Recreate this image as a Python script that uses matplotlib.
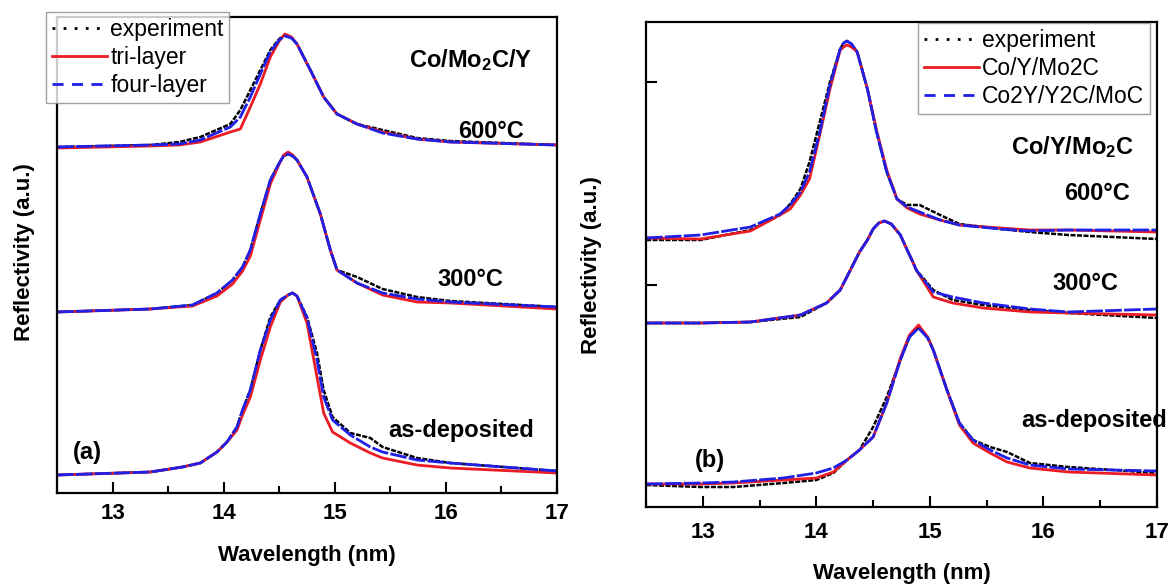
import numpy as np
import matplotlib
matplotlib.use('Agg')
import matplotlib.pyplot as plt
from matplotlib.ticker import MultipleLocator
from matplotlib.lines import Line2D

plt.rcParams['font.family'] = ['Liberation Sans', 'DejaVu Sans']
plt.rcParams['mathtext.fontset'] = 'custom'
plt.rcParams['mathtext.rm'] = 'Liberation Sans:bold'
plt.rcParams['mathtext.it'] = 'Liberation Sans:bold'
plt.rcParams['mathtext.bf'] = 'Liberation Sans:bold'

# %% data, panel (a) Co/Mo2C/Y  (reflectivity in a.u., curves already stacked)
a600_wl  = [12.5, 13.34, 13.6, 13.79, 14.06, 14.15, 14.24, 14.33, 14.42, 14.5, 14.55, 14.61, 14.66, 14.78, 14.9, 15.02, 15.2, 15.43, 15.74, 16.04, 17.0]
a600_exp = [346, 348, 351, 356, 369, 383, 403, 423, 443, 454, 458, 455, 449, 423, 396, 379, 369, 363, 355, 352, 348]
a600_tri = [345, 347, 348, 351, 361, 364, 386, 409, 436, 452, 459, 456, 449, 423, 396, 379, 369, 361, 354, 351, 348]
a600_four = [346, 348, 349, 353, 366, 376, 396, 419, 441, 453, 457, 455, 449, 423, 396, 379, 369, 360, 354, 351, 348]

a300_wl  = [12.5, 13.34, 13.72, 13.94, 14.08, 14.17, 14.24, 14.33, 14.42, 14.5, 14.54, 14.58, 14.62, 14.66, 14.75, 14.87, 14.96, 15.02, 15.2, 15.43, 15.74, 16.04, 17.0]
a300_exp = [181, 184, 188, 200, 213, 226, 243, 279, 313, 330, 337, 339, 337, 333, 316, 279, 243, 223, 216, 204, 196, 192, 186]
a300_tri = [181, 184, 187, 197, 209, 222, 237, 273, 309, 329, 338, 341, 338, 333, 316, 279, 243, 223, 210, 198, 191, 190, 184]
a300_four = [181, 184, 188, 200, 213, 226, 243, 279, 313, 330, 337, 339, 337, 333, 316, 279, 243, 223, 210, 200, 194, 191, 186]

aas_wl  = [12.5, 13.34, 13.63, 13.79, 13.94, 14.03, 14.12, 14.17, 14.24, 14.33, 14.42, 14.51, 14.58, 14.62, 14.66, 14.75, 14.84, 14.9, 14.98, 15.14, 15.32, 15.43, 15.74, 16.04, 17.0]
aas_exp = [18, 21, 26, 30, 41, 51, 66, 83, 103, 143, 176, 193, 198, 200, 197, 176, 140, 103, 76, 60, 55, 46, 35, 30, 22]
aas_tri = [18, 21, 26, 30, 41, 51, 63, 78, 96, 133, 166, 191, 198, 200, 197, 170, 116, 80, 61, 50, 40, 35, 28, 25, 20]
aas_four = [18, 21, 26, 30, 41, 51, 66, 83, 103, 143, 173, 193, 198, 200, 197, 175, 133, 96, 73, 58, 46, 41, 33, 30, 22]

# %% data, panel (b) Co/Y/Mo2C
b600_wl  = [12.5, 12.98, 13.42, 13.68, 13.77, 13.86, 13.94, 14.03, 14.12, 14.21, 14.24, 14.27, 14.31, 14.36, 14.45, 14.53, 14.62, 14.71, 14.8, 14.91, 15.09, 15.26, 15.62, 15.88, 16.22, 17.0]
b600_exp = [267, 267, 277, 292, 303, 318, 345, 385, 425, 458, 464, 466, 463, 455, 418, 375, 335, 308, 302, 302, 292, 283, 278, 275, 272, 268]
b600_tri = [269, 268, 276, 292, 298, 312, 328, 372, 418, 457, 460, 462, 460, 455, 418, 377, 337, 308, 299, 293, 287, 282, 279, 277, 277, 275]
b600_four = [269, 272, 280, 293, 302, 315, 335, 375, 422, 458, 464, 466, 463, 455, 418, 375, 335, 308, 300, 295, 287, 282, 278, 276, 277, 277]

b300_wl  = [12.5, 12.98, 13.42, 13.86, 14.09, 14.21, 14.3, 14.38, 14.45, 14.5, 14.55, 14.6, 14.66, 14.74, 14.8, 14.85, 14.88, 15.03, 15.2, 15.47, 15.88, 16.22, 17.0]
b300_exp = [184, 184, 185, 190, 204, 217, 237, 255, 267, 278, 284, 286, 283, 272, 257, 245, 237, 217, 207, 202, 197, 194, 189]
b300_tri = [184, 184, 185, 192, 204, 217, 237, 255, 267, 278, 284, 286, 283, 272, 257, 245, 237, 210, 204, 199, 195, 194, 192]
b300_four = [184, 184, 185, 192, 204, 217, 237, 255, 267, 278, 284, 286, 283, 272, 257, 245, 237, 215, 210, 204, 198, 195, 198]

bas_wl  = [12.5, 12.98, 13.27, 13.71, 14.0, 14.15, 14.27, 14.38, 14.5, 14.62, 14.74, 14.82, 14.9, 14.98, 15.03, 15.15, 15.26, 15.38, 15.53, 15.68, 15.88, 16.22, 17.0]
bas_exp = [22, 20, 20, 24, 27, 34, 47, 57, 80, 110, 147, 170, 180, 170, 157, 117, 84, 67, 60, 55, 44, 40, 34]
bas_tri = [23, 23, 24, 27, 29, 35, 47, 57, 70, 104, 149, 172, 182, 170, 157, 117, 82, 64, 54, 45, 39, 35, 32]
bas_four = [23, 24, 25, 29, 34, 39, 47, 57, 70, 104, 147, 170, 179, 169, 157, 117, 84, 67, 57, 49, 42, 38, 36]

b_yticks = [222, 425]

labels_a = ['experiment', 'tri-layer', 'four-layer']
labels_b = ['experiment', 'Co/Y/Mo2C', 'Co2Y/Y2C/MoC']

red = '#ec1c24'
blue = '#1f1fe6'

# %% figure
fig = plt.figure(figsize=(11.7, 5.85), dpi=100)
ax1 = fig.add_axes([57/1170, 1-493/585, 500/1170, 476/585])
ax2 = fig.add_axes([646/1170, 1-507/585, 511/1170, 485/585])

# dense measured/simulated curves look nearly solid in the original
def draw(ax, wl, e, t, f):
    ax.plot(wl, e, color='black', lw=1.8, linestyle=(0, (2, 0.6)))
    ax.plot(wl, t, color=red, lw=2.0)
    ax.plot(wl, f, color=blue, lw=2.0, linestyle=(0, (6, 0.8)))

draw(ax1, a600_wl, a600_exp, a600_tri, a600_four)
draw(ax1, a300_wl, a300_exp, a300_tri, a300_four)
draw(ax1, aas_wl, aas_exp, aas_tri, aas_four)

draw(ax2, b600_wl, b600_exp, b600_tri, b600_four)
draw(ax2, b300_wl, b300_exp, b300_tri, b300_four)
draw(ax2, bas_wl, bas_exp, bas_tri, bas_four)

ax1.set_ylim(0, 476)
ax2.set_ylim(0, 485)
for ax in (ax1, ax2):
    ax.set_xlim(12.5, 17)
    ax.xaxis.set_major_locator(MultipleLocator(1))
    ax.xaxis.set_minor_locator(MultipleLocator(0.5))
    ax.tick_params(axis='x', which='major', direction='in', length=8, width=1.5,
                   labelsize=16)
    ax.tick_params(axis='x', which='minor', direction='in', length=5, width=1.5)
    for lbl in ax.get_xticklabels():
        lbl.set_fontweight('bold')
    for s in ax.spines.values():
        s.set_linewidth(1.6)

ax1.tick_params(axis='x', which='major', pad=7)
ax2.tick_params(axis='x', which='major', pad=11)
ax1.set_yticks([])
ax2.set_yticks(b_yticks)
ax2.tick_params(axis='y', direction='in', length=8, width=1.5, labelleft=False)

# legends
def proxies(lab):
    return [Line2D([], [], color='black', lw=2, linestyle=(0, (1, 3)), label=lab[0]),
            Line2D([], [], color=red, lw=2, label=lab[1]),
            Line2D([], [], color=blue, lw=2, linestyle=(0, (4, 3)), label=lab[2])]

legkw = dict(fontsize=16.5, frameon=True, fancybox=False, edgecolor='#888888',
             borderaxespad=0, labelspacing=0.22, handlelength=2.4,
             handletextpad=0.15, borderpad=0.25)
leg1 = fig.legend(handles=proxies(labels_a), loc='upper left',
                  bbox_to_anchor=(46/1170, 1-12/585), **legkw)
leg1.get_frame().set_linewidth(1.0)
leg2 = fig.legend(handles=proxies(labels_b), loc='upper right',
                  bbox_to_anchor=(1150/1170, 1-23/585), **legkw)
leg2.get_frame().set_linewidth(1.0)

# annotations
kw = dict(fontsize=17, fontweight='bold', va='center')
ax1.text(16.78, 433, r'Co/Mo$_2$C/Y', ha='right', **kw)
ax1.text(16.70, 362, '600°C', ha='right', **kw)
ax1.text(16.52, 213, '300°C', ha='right', **kw)
ax1.text(16.79, 63, 'as-deposited', ha='right', **kw)
ax1.text(12.64, 41, '(a)', ha='left', **kw)

ax2.text(16.80, 360, r'Co/Y/Mo$_2$C', ha='right', **kw)
ax2.text(16.76, 314, '600°C', ha='right', **kw)
ax2.text(16.66, 224, '300°C', ha='right', **kw)
ax2.text(17.09, 87, 'as-deposited', ha='right', **kw)
ax2.text(12.93, 47, '(b)', ha='left', **kw)

# axis labels
fig.text(25/1170, 1-252/585, 'Reflectivity (a.u.)', rotation=90, ha='center', va='center',
         fontsize=16, fontweight='bold')
fig.text(592/1170, 1-265/585, 'Reflectivity (a.u.)', rotation=90, ha='center', va='center',
         fontsize=16, fontweight='bold')
fig.text(307/1170, 1-555/585, 'Wavelength (nm)', ha='center', va='center',
         fontsize=16, fontweight='bold')
fig.text(902/1170, 1-573/585, 'Wavelength (nm)', ha='center', va='center',
         fontsize=16, fontweight='bold')

fig.savefig('out.png', dpi=100)
